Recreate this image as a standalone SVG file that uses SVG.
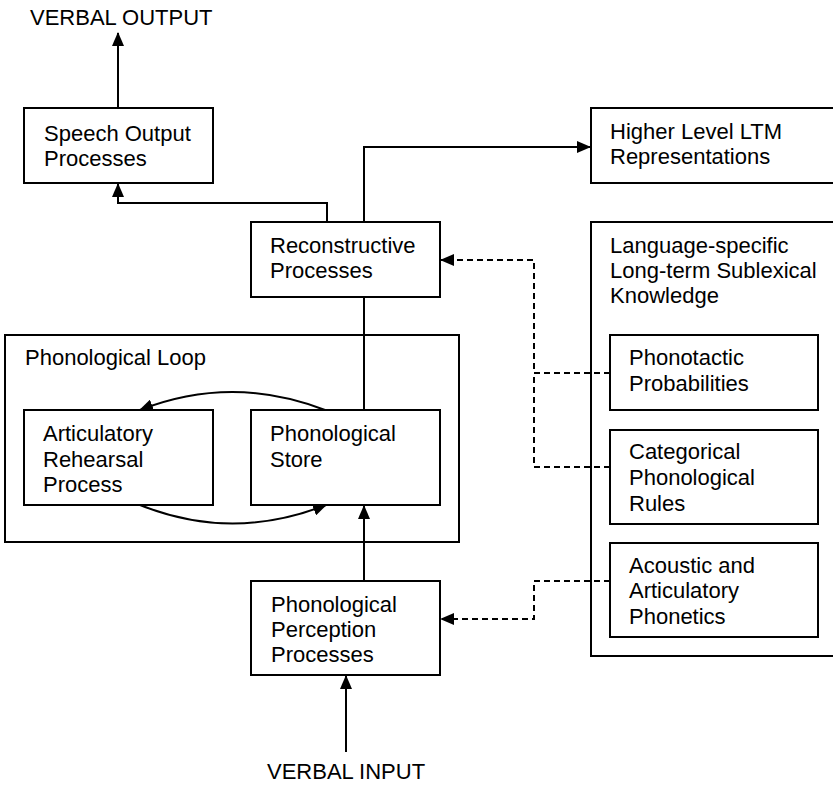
<svg xmlns="http://www.w3.org/2000/svg" width="833" height="785" viewBox="0 0 833 785">
  <defs>
    <marker id="arrow" markerUnits="userSpaceOnUse" markerWidth="14" markerHeight="12" viewBox="0 0 14 12" refX="13" refY="6" orient="auto">
      <path d="M0,0 L14,6 L0,12 Z" fill="#000"/>
    </marker>
    <style>
      .box { fill: #fff; stroke: #000; stroke-width: 2; }
      .frame { fill: none; stroke: #000; stroke-width: 2; }
      .lbl { font-family: "Liberation Sans", Arial, sans-serif; font-size: 22px; fill: #000; }
      .wire { fill: none; stroke: #000; stroke-width: 2; }
      .dash { fill: none; stroke: #000; stroke-width: 2; stroke-dasharray: 6 4; }
    </style>
  </defs>
  <rect width="833" height="785" fill="#fff"/>

  <!-- enclosing containers -->
  <g id="phonological-loop">
    <rect class="frame" x="5" y="335" width="454" height="207"/>
    <text class="lbl" x="25" y="365">Phonological Loop</text>
  </g>
  <g id="sublexical-knowledge">
    <rect class="frame" x="591" y="222" width="250" height="434"/>
    <text class="lbl" x="610" y="253">Language-specific</text>
    <text class="lbl" x="610" y="278">Long-term Sublexical</text>
    <text class="lbl" x="610" y="303">Knowledge</text>
  </g>

  <!-- processing nodes -->
  <g id="speech-output">
    <rect class="box" x="24" y="108" width="189" height="75"/>
    <text class="lbl" x="44" y="141">Speech Output</text>
    <text class="lbl" x="44" y="166">Processes</text>
  </g>
  <g id="higher-level-ltm">
    <rect class="box" x="591" y="108" width="250" height="75"/>
    <text class="lbl" x="610" y="139">Higher Level LTM</text>
    <text class="lbl" x="610" y="164">Representations</text>
  </g>
  <g id="reconstructive">
    <rect class="box" x="251" y="222" width="189" height="75"/>
    <text class="lbl" x="270" y="253">Reconstructive</text>
    <text class="lbl" x="270" y="278">Processes</text>
  </g>
  <g id="articulatory-rehearsal">
    <rect class="box" x="24" y="410" width="189" height="95"/>
    <text class="lbl" x="43" y="441">Articulatory</text>
    <text class="lbl" x="43" y="467">Rehearsal</text>
    <text class="lbl" x="43" y="492">Process</text>
  </g>
  <g id="phonological-store">
    <rect class="box" x="251" y="410" width="189" height="95"/>
    <text class="lbl" x="270" y="441">Phonological</text>
    <text class="lbl" x="270" y="467">Store</text>
  </g>
  <g id="phonological-perception">
    <rect class="box" x="251" y="581" width="189" height="94"/>
    <text class="lbl" x="271" y="612">Phonological</text>
    <text class="lbl" x="271" y="637">Perception</text>
    <text class="lbl" x="271" y="662">Processes</text>
  </g>
  <g id="phonotactic">
    <rect class="box" x="610" y="335" width="208" height="75"/>
    <text class="lbl" x="629" y="365">Phonotactic</text>
    <text class="lbl" x="629" y="391">Probabilities</text>
  </g>
  <g id="categorical-rules">
    <rect class="box" x="610" y="430" width="208" height="94"/>
    <text class="lbl" x="629" y="459">Categorical</text>
    <text class="lbl" x="629" y="485">Phonological</text>
    <text class="lbl" x="629" y="511">Rules</text>
  </g>
  <g id="acoustic-phonetics">
    <rect class="box" x="610" y="543" width="208" height="94"/>
    <text class="lbl" x="629" y="573">Acoustic and</text>
    <text class="lbl" x="629" y="598">Articulatory</text>
    <text class="lbl" x="629" y="624">Phonetics</text>
  </g>

  <!-- external input / output labels -->
  <g id="verbal-output">
    <text class="lbl" x="30" y="25">VERBAL OUTPUT</text>
  </g>
  <g id="verbal-input">
    <text class="lbl" x="267" y="779">VERBAL INPUT</text>
  </g>

  <!-- connectors -->
  <g id="connectors">
    <path class="wire" d="M118,108 V33" marker-end="url(#arrow)"/>
    <path class="wire" d="M327,222 V203 H118 V184" marker-end="url(#arrow)"/>
    <path class="wire" d="M364,222 V147 H590" marker-end="url(#arrow)"/>
    <path class="wire" d="M364,410 V297"/>
    <path class="wire" d="M364,581 V506" marker-end="url(#arrow)"/>
    <path class="wire" d="M346,752 V676" marker-end="url(#arrow)"/>
    <path class="wire" d="M325,410 Q232,374 140,410" marker-end="url(#arrow)"/>
    <path class="wire" d="M140,505 Q232,542 326,505" marker-end="url(#arrow)"/>
    <path class="dash" d="M610,373 H534 V260 H441" marker-end="url(#arrow)"/>
    <path class="dash" d="M610,467 H534 V373"/>
    <path class="dash" d="M610,581 H534 V619 H441" marker-end="url(#arrow)"/>
  </g>
</svg>
